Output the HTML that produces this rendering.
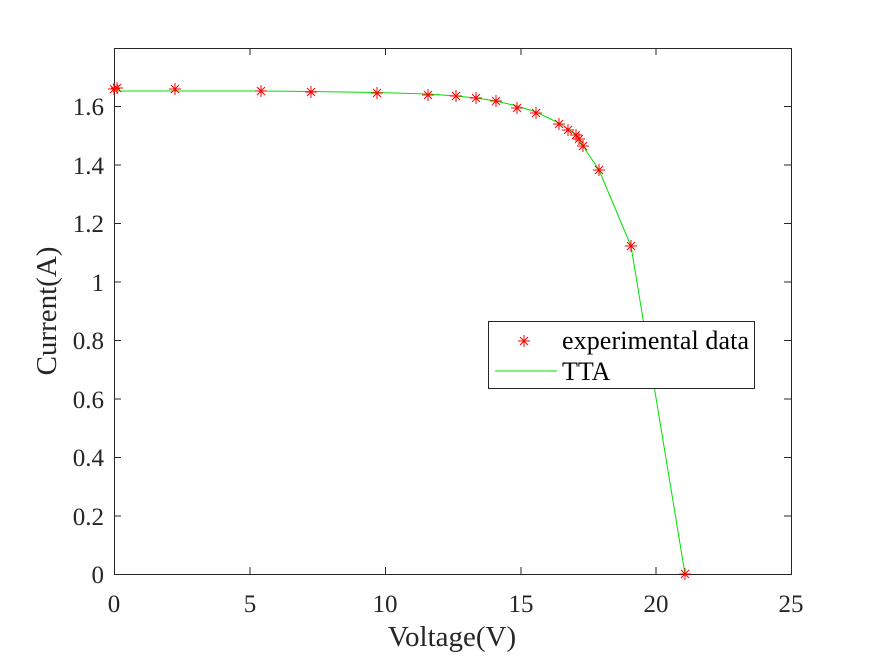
<!DOCTYPE html>
<html><head><style>body{margin:0;background:#fff}</style></head><body>
<svg width="875" height="656" xmlns="http://www.w3.org/2000/svg" font-family="Liberation Serif, serif">
<rect width="875" height="656" fill="#fff"/>
<g stroke="#262626" stroke-width="1" fill="none">
<rect x="114.5" y="48.5" width="677" height="526"/>
<path d="M114.5 574v-7M250 574v-7M385.5 574v-7M521 574v-7M656 574v-7M791.5 574v-7M114.5 48v7M250 48v7M385.5 48v7M521 48v7M656 48v7
M114 574.5h7M114 516h7M114 457.5h7M114 399h7M114 340.5h7M114 282h7M114 223.5h7M114 165h7M114 106.5h7M114 48.5h7
M791 516h-7M791 457.5h-7M791 399h-7M791 340.5h-7M791 282h-7M791 223.5h-7M791 165h-7M791 106.5h-7"/>
</g>
<g font-size="25" fill="#262626" text-anchor="middle">
<text x="114" y="612">0</text><text x="250" y="612">5</text><text x="385" y="612">10</text><text x="521" y="612">15</text><text x="656" y="612">20</text><text x="791" y="612">25</text>
</g>
<g font-size="25" fill="#262626" text-anchor="end">
<text x="104" y="583">0</text><text x="104" y="525">0.2</text><text x="104" y="466">0.4</text><text x="104" y="408">0.6</text><text x="104" y="349">0.8</text><text x="104" y="291">1</text><text x="104" y="232">1.2</text><text x="104" y="174">1.4</text><text x="104" y="115">1.6</text>
</g>
<text x="452" y="646" font-size="29" text-anchor="middle" fill="#262626">Voltage(V)</text>
<text transform="translate(56 311) rotate(-90)" font-size="29" text-anchor="middle" fill="#262626">Current(A)</text>
<polyline fill="none" stroke="#00e000" stroke-width="1" points="114,91 175,91 261,91 311,91.5 377,92.5 428,94 456,96 476,98 496,101 517,106 536,112 559,123 568,129 576,135 579,139 583,146 599,170 631,246 685,574"/>
<g stroke="#ff0000" stroke-width="1">
<path d="M114 89m-6 0h12m-6-6v12m-4-10l8 8m0-8l-8 8 M117 88m-6 0h12m-6-6v12m-4-10l8 8m0-8l-8 8
M175 89m-6 0h12m-6-6v12m-4-10l8 8m0-8l-8 8 M261 91m-6 0h12m-6-6v12m-4-10l8 8m0-8l-8 8
M311 92m-6 0h12m-6-6v12m-4-10l8 8m0-8l-8 8 M377 93m-6 0h12m-6-6v12m-4-10l8 8m0-8l-8 8
M428 95m-6 0h12m-6-6v12m-4-10l8 8m0-8l-8 8 M456 96m-6 0h12m-6-6v12m-4-10l8 8m0-8l-8 8
M476 98m-6 0h12m-6-6v12m-4-10l8 8m0-8l-8 8 M496 101m-6 0h12m-6-6v12m-4-10l8 8m0-8l-8 8
M517 108m-6 0h12m-6-6v12m-4-10l8 8m0-8l-8 8 M536 113m-6 0h12m-6-6v12m-4-10l8 8m0-8l-8 8
M559 124m-6 0h12m-6-6v12m-4-10l8 8m0-8l-8 8 M568 130m-6 0h12m-6-6v12m-4-10l8 8m0-8l-8 8
M576 135m-6 0h12m-6-6v12m-4-10l8 8m0-8l-8 8 M579 139m-6 0h12m-6-6v12m-4-10l8 8m0-8l-8 8
M583 146m-6 0h12m-6-6v12m-4-10l8 8m0-8l-8 8 M599 170m-6 0h12m-6-6v12m-4-10l8 8m0-8l-8 8
M631 246m-6 0h12m-6-6v12m-4-10l8 8m0-8l-8 8 M685 574m-6 0h12m-6-6v12m-4-10l8 8m0-8l-8 8"/>
</g>
<rect x="488.5" y="321.5" width="266" height="67" fill="#fff" stroke="#262626"/>
<path d="M524 341m-6 0h12m-6-6v12m-4-10l8 8m0-8l-8 8" stroke="#ff0000" stroke-width="1"/>
<line x1="495" y1="371" x2="557" y2="371" stroke="#00e000"/>
<text x="562" y="349" font-size="26" fill="#000" textLength="187">experimental data</text>
<text x="562" y="380" font-size="26" fill="#000">TTA</text>
</svg>
</body></html>
